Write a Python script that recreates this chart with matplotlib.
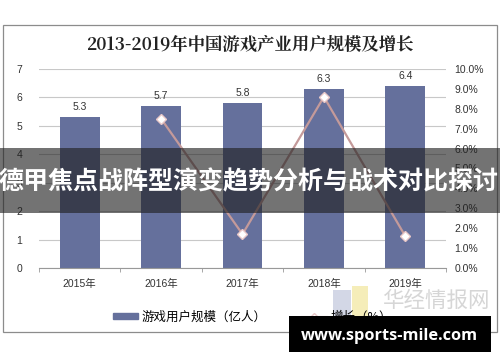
import matplotlib
matplotlib.use("Agg")
import matplotlib.pyplot as plt
from matplotlib.patches import Rectangle
from matplotlib.lines import Line2D
import numpy as np

plt.rcParams['font.family'] = ['Liberation Sans', 'Noto Sans CJK SC', 'DejaVu Sans']

years = ["2015年", "2016年", "2017年", "2018年", "2019年"]
users = [5.3, 5.7, 5.8, 6.3, 6.4]
growth_years = ["2016年", "2017年", "2018年", "2019年"]
growth = [7.5, 1.7, 8.6, 1.6]
left_ticks = [0, 1, 2, 3, 4, 5, 6, 7]
right_ticks = [0, 1, 2, 3, 4, 5, 6, 7, 8, 9, 10]

title = "2013-2019年中国游戏产业用户规模及增长"
bar_label = "游戏用户规模（亿人）"
line_label = "增长（%）"
banner = "德甲焦点战阵型演变趋势分析与战术对比探讨"
watermark = "www.sports-mile.com"

W, H = 500, 362
fig = plt.figure(figsize=(5, 3.62), dpi=100)
fig.patch.set_facecolor("white")

def fx(px):
    return px / W

def fy(py):
    return 1 - py / H

# outer border
fig.add_artist(Rectangle((fx(3), fy(332)), fx(494), (332 - 25) / H, transform=fig.transFigure,
                         fill=False, edgecolor="#8c8c8c", linewidth=0.9))

fig.text(0.5, fy(45), title, ha="center", va="center", fontsize=12.5, fontweight="bold",
         color="#222222", family=['Noto Serif CJK SC', 'Noto Sans CJK SC', 'DejaVu Sans'])

ax = fig.add_axes([fx(39), fy(268), fx(446 - 39), (268 - 69) / H])
x = np.arange(len(years))
bar_color = "#65709c"
ax.bar(x, users, width=0.49, color=bar_color, zorder=2)
for xi, v in zip(x, users):
    ax.text(xi, v + 0.18, f"{v}", ha="center", va="bottom", fontsize=7.5, color="#333333")
ax.set_xlim(-0.5, len(years) - 0.5)
ax.set_ylim(0, 7)
ax.set_yticks(left_ticks)
ax.set_yticklabels([str(t) for t in left_ticks], fontsize=7.5, color="#333333")
ax.yaxis.grid(True, color="#c8c8c8", linewidth=0.8, zorder=0)
ax.set_axisbelow(True)
ax.set_xticks(x)
ax.set_xticklabels(years, fontsize=7.5, color="#333333")
ax.set_xticks(np.arange(-0.5, len(years)), minor=True)
ax.tick_params(axis="x", which="major", length=0, pad=8)
ax.tick_params(axis="x", which="minor", length=3, color="#999999")
ax.tick_params(axis="y", length=0, pad=12)
for s in ["top", "right", "left"]:
    ax.spines[s].set_visible(False)
ax.spines["bottom"].set_color("#999999")

ax2 = ax.twinx()
gx = [years.index(g) for g in growth_years]
line_color = "#c49a9a"
ax2.plot(gx, growth, color=line_color, linewidth=1.6, marker="D", markersize=5,
         markerfacecolor="white", markeredgecolor="#e8c8c8", markeredgewidth=1, zorder=3)
ax2.set_ylim(0, 10)
ax2.set_yticks(right_ticks)
ax2.set_yticklabels([f"{t:.1f}%" for t in right_ticks], fontsize=7.5, color="#333333")
ax2.tick_params(axis="y", length=0, pad=6)
for s in ["top", "right", "left", "bottom"]:
    ax2.spines[s].set_visible(False)

# faint logo watermark
fig.add_artist(Rectangle((fx(333), fy(318)), fx(18), 28 / H, transform=fig.transFigure,
                         facecolor="#c9cde0", edgecolor="none", alpha=0.8))
fig.add_artist(Rectangle((fx(352), fy(318)), fx(16), 32 / H, transform=fig.transFigure,
                         facecolor="#f3e9a8", edgecolor="none", alpha=0.8))
fig.text(fx(436), fy(301), "华经情报网", ha="center", va="center", fontsize=15.5,
         color="#d6d6d6", family=['Noto Sans CJK SC', 'DejaVu Sans'])
fig.text(fx(436), fy(320), "H U A O N . C O M", ha="center", va="center", fontsize=5.5,
         color="#cfcfcf")

# legend
handles = [Rectangle((0, 0), 1, 1, color=bar_color),
           Line2D([], [], color=line_color, marker="D", markersize=4,
                  markerfacecolor="white", markeredgecolor="#e8c8c8")]
fig.legend(handles, [bar_label, line_label], loc="center", bbox_to_anchor=(0.505, fy(317)),
           ncol=2, frameon=False, handlelength=2.0, handleheight=0.35,
           columnspacing=2.8, handletextpad=0.3,
           prop={'family': ['Noto Sans CJK SC', 'DejaVu Sans'], 'size': 9})

# banner
fig.add_artist(Rectangle((0, fy(213)), 1, (213 - 148) / H, transform=fig.transFigure,
                         facecolor="#1e1e1e", alpha=0.62, edgecolor="none", zorder=10))
fig.text(0.497, fy(182), banner, ha="center", va="center", fontsize=18, fontweight="bold",
         color="white", family=['Noto Sans CJK SC', 'DejaVu Sans'], zorder=11)

# site watermark
fig.add_artist(Rectangle((fx(289), fy(352)), fx(202), (352 - 316) / H, transform=fig.transFigure,
                         facecolor="black", edgecolor="none", zorder=10))
fig.text(fx(389), fy(336), watermark, ha="center", va="center", fontsize=11.8, fontweight="bold",
         color="white", family=['Open Sans', 'DejaVu Sans'], zorder=11)

fig.savefig("out.png", dpi=100)
